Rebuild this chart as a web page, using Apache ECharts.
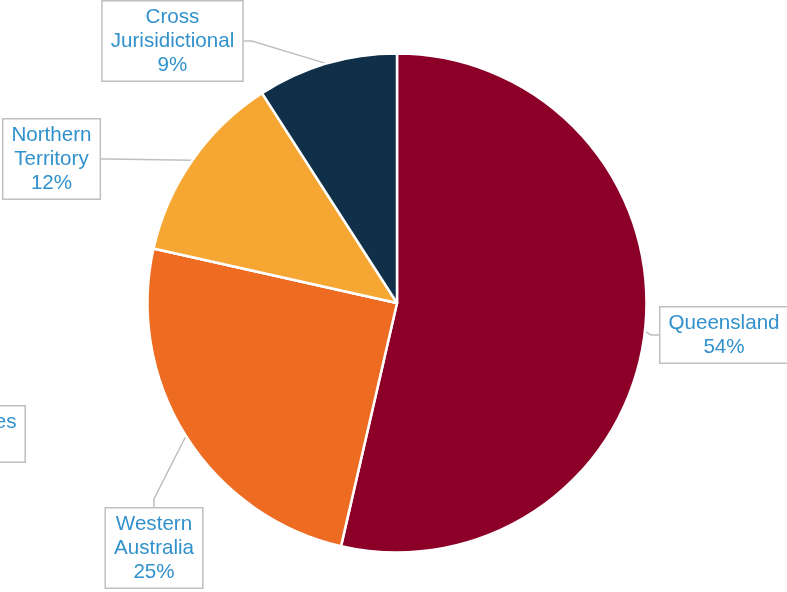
<!DOCTYPE html>
<html>
<head>
<meta charset="utf-8">
<script src="https://cdn.jsdelivr.net/npm/echarts@6/dist/echarts.min.js"></script>
<style>
  html, body { margin: 0; padding: 0; background: #ffffff; }
  #chart { width: 787px; height: 592px; }
</style>
</head>
<body>
<div id="chart"></div>
<script>
// Share of projects by jurisdiction
const categories = ['Queensland', 'Western\nAustralia', 'New South Wales', 'Northern\nTerritory', 'Cross\nJurisidictional'];
const shares = [53.6, 24.9, 0, 12.4, 9.1];
const sliceColors = ['#8c0027', '#ee6b22', '#a5a5a5', '#f6a632', '#0f3048'];

// Callout box placement (box centre, in px)
const calloutAt = {
  'Queensland': [724, 335],
  'Western\nAustralia': [154, 548],
  'New South Wales': [-65, 434],
  'Northern\nTerritory': [51.5, 159],
  'Cross\nJurisidictional': [172.5, 41]
};

const chart = echarts.init(document.getElementById('chart'), null, { renderer: 'canvas' });

const data = categories.map((name, i) => ({
  name: name,
  value: shares[i],
  itemStyle: { color: sliceColors[i] },
  labelLine: { show: shares[i] > 0 }
}));

chart.setOption({
  animation: false,
  backgroundColor: '#ffffff',
  series: [{
    type: 'pie',
    center: [397, 303],
    radius: 249.5,
    startAngle: 90,
    clockwise: true,
    avoidLabelOverlap: false,
    itemStyle: { borderColor: '#ffffff', borderWidth: 2.5 },
    label: {
      show: true,
      position: 'outside',
      formatter: p => p.name + '\n' + Math.round(p.percent) + '%',
      fontFamily: 'Liberation Sans, Arial, sans-serif',
      fontSize: 20.6,
      lineHeight: 24,
      color: '#3191cc',
      align: 'center',
      backgroundColor: '#ffffff',
      borderColor: '#bfbfbf',
      borderWidth: 1.5,
      padding: [4, 8, 3, 8]
    },
    labelLine: {
      show: true,
      length: 10,
      length2: 8,
      lineStyle: { color: '#bfbfbf', width: 1.5 }
    },
    labelLayout: function (params) {
      const pos = calloutAt[categories[params.dataIndex]];
      return { x: pos[0], y: pos[1], align: 'center', verticalAlign: 'middle' };
    },
    data: data
  }]
});
</script>
</body>
</html>
